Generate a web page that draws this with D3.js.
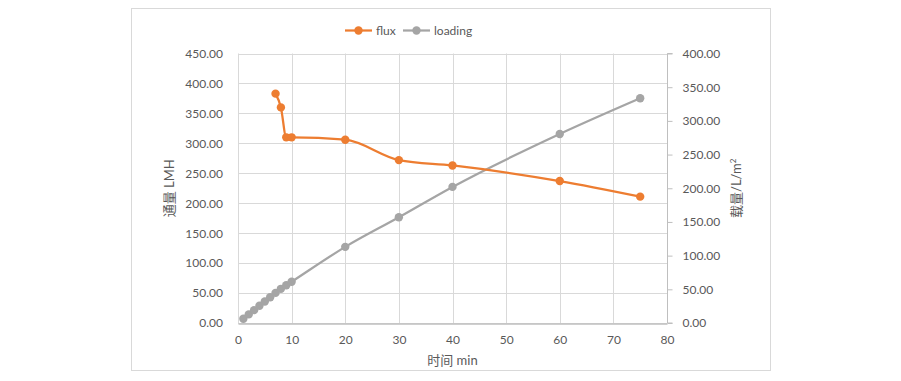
<!DOCTYPE html>
<html><head><meta charset="utf-8">
<script src="https://cdn.jsdelivr.net/npm/d3@7"></script>
<style>body{margin:0;background:#fff}svg{display:block}text{font-family:Lato,"Noto Sans CJK SC",sans-serif;fill:#595959}</style>
</head><body><svg id="c" width="901" height="381"></svg>
<script>
const fluxTime = [7, 8, 9, 10, 20, 30, 40, 60, 75];
const fluxValues = [383, 360, 310, 310, 306, 272, 263, 237, 211];
const loadTime = [1, 2, 3, 4, 5, 6, 7, 8, 9, 10, 20, 30, 40, 60, 75];
const loadValues = [6.4, 12.8, 19.1, 25.5, 31.9, 38.3, 44.7, 50.7, 56, 61.2, 113, 157, 202, 280.5, 333.5];
const xTicks = [0, 10, 20, 30, 40, 50, 60, 70, 80];
const leftTicks = [0, 50, 100, 150, 200, 250, 300, 350, 400, 450];
const rightTicks = [0, 50, 100, 150, 200, 250, 300, 350, 400];
const seriesNames = ["flux", "loading"];
const colors = ["#ED7D31", "#A5A5A5"];

const svg = d3.select("#c");
const L = 238, R = 667, T = 53.5, B = 323;
const x = d3.scaleLinear().domain([0, 80]).range([L, R]);
const yL = d3.scaleLinear().domain([0, 450]).range([B, T]);
const yR = d3.scaleLinear().domain([0, 400]).range([B, T]);

svg.append("rect").attr("x", 131.5).attr("y", 8.5).attr("width", 639).attr("height", 362)
  .attr("fill", "#fff").attr("stroke", "#D9D9D9");

// gridlines
svg.append("g").selectAll("line").data(leftTicks).join("line")
  .attr("x1", L).attr("x2", R).attr("y1", d => Math.round(yL(d)) + 0.5).attr("y2", d => Math.round(yL(d)) + 0.5)
  .attr("stroke", "#D9D9D9");
svg.append("g").selectAll("line").data(xTicks).join("line")
  .attr("y1", T).attr("y2", B).attr("x1", d => Math.round(x(d)) + 0.5).attr("x2", d => Math.round(x(d)) + 0.5)
  .attr("stroke", "#D9D9D9");

// bottom axis
const xAxis = svg.append("g").attr("transform", `translate(0,${Math.round(B) + 0.5})`)
  .call(d3.axisBottom(x).tickValues(xTicks).tickSize(0).tickPadding(12).tickFormat(d3.format("d")));
xAxis.select(".domain").attr("stroke", "#BFBFBF").attr("stroke-width", 1.5);
xAxis.selectAll("text").attr("font-size", 12).attr("fill", "#595959");

// left axis
const yAxisL = svg.append("g").attr("transform", `translate(${L},0)`)
  .call(d3.axisLeft(yL).tickValues(leftTicks).tickSize(0).tickPadding(15).tickFormat(d3.format(".2f")));
yAxisL.select(".domain").remove();
yAxisL.selectAll("text").attr("font-size", 12).attr("fill", "#595959");

// right axis
const yAxisR = svg.append("g").attr("transform", `translate(${R + 0.5},0)`)
  .call(d3.axisRight(yR).tickValues(rightTicks).tickSize(5).tickPadding(10).tickFormat(d3.format(".2f")));
yAxisR.select(".domain").attr("stroke", "#BFBFBF").attr("d", `M5,${T}H0V${B}H5`);
yAxisR.selectAll(".tick line").attr("stroke", "#BFBFBF");
yAxisR.selectAll("text").attr("font-size", 12).attr("fill", "#595959");

// series
const line1 = d3.line().x((d, i) => x(fluxTime[i])).y(d => yL(d)).curve(d3.curveMonotoneX);
const line2 = d3.line().x((d, i) => x(loadTime[i])).y(d => yR(d)).curve(d3.curveMonotoneX);
svg.append("path").attr("d", line2(loadValues)).attr("fill", "none").attr("stroke", colors[1]).attr("stroke-width", 2.25);
svg.append("g").selectAll("circle").data(loadValues).join("circle")
  .attr("cx", (d, i) => x(loadTime[i])).attr("cy", d => yR(d)).attr("r", 4.2).attr("fill", colors[1]);
svg.append("path").attr("d", line1(fluxValues)).attr("fill", "none").attr("stroke", colors[0]).attr("stroke-width", 2.25);
svg.append("g").selectAll("circle").data(fluxValues).join("circle")
  .attr("cx", (d, i) => x(fluxTime[i])).attr("cy", d => yL(d)).attr("r", 4.2).attr("fill", colors[0]);

// axis titles
svg.append("text").attr("x", x(40)).attr("y", 365).attr("text-anchor", "middle").attr("font-size", 13).text("时间 min");
svg.append("text").attr("transform", `translate(174,${(T + B) / 2}) rotate(-90)`).attr("text-anchor", "middle").attr("font-size", 13).text("通量 LMH");
const rt = svg.append("text").attr("transform", `translate(741,${(T + B) / 2}) rotate(-90)`).attr("text-anchor", "middle").attr("font-size", 13);
rt.append("tspan").text("载量/L/m");
rt.append("tspan").attr("dy", -5).attr("font-size", 8).text("2");

// legend
const lg = svg.append("g");
const lx = [345, 403];
seriesNames.forEach((n, i) => {
  lg.append("line").attr("x1", lx[i]).attr("x2", lx[i] + 27).attr("y1", 30.5).attr("y2", 30.5).attr("stroke", colors[i]).attr("stroke-width", 2.25);
  lg.append("circle").attr("cx", lx[i] + 13.5).attr("cy", 30.5).attr("r", 4.2).attr("fill", colors[i]);
  lg.append("text").attr("x", lx[i] + 31).attr("y", 35).attr("font-size", 12).text(n);
});
</script></body></html>
